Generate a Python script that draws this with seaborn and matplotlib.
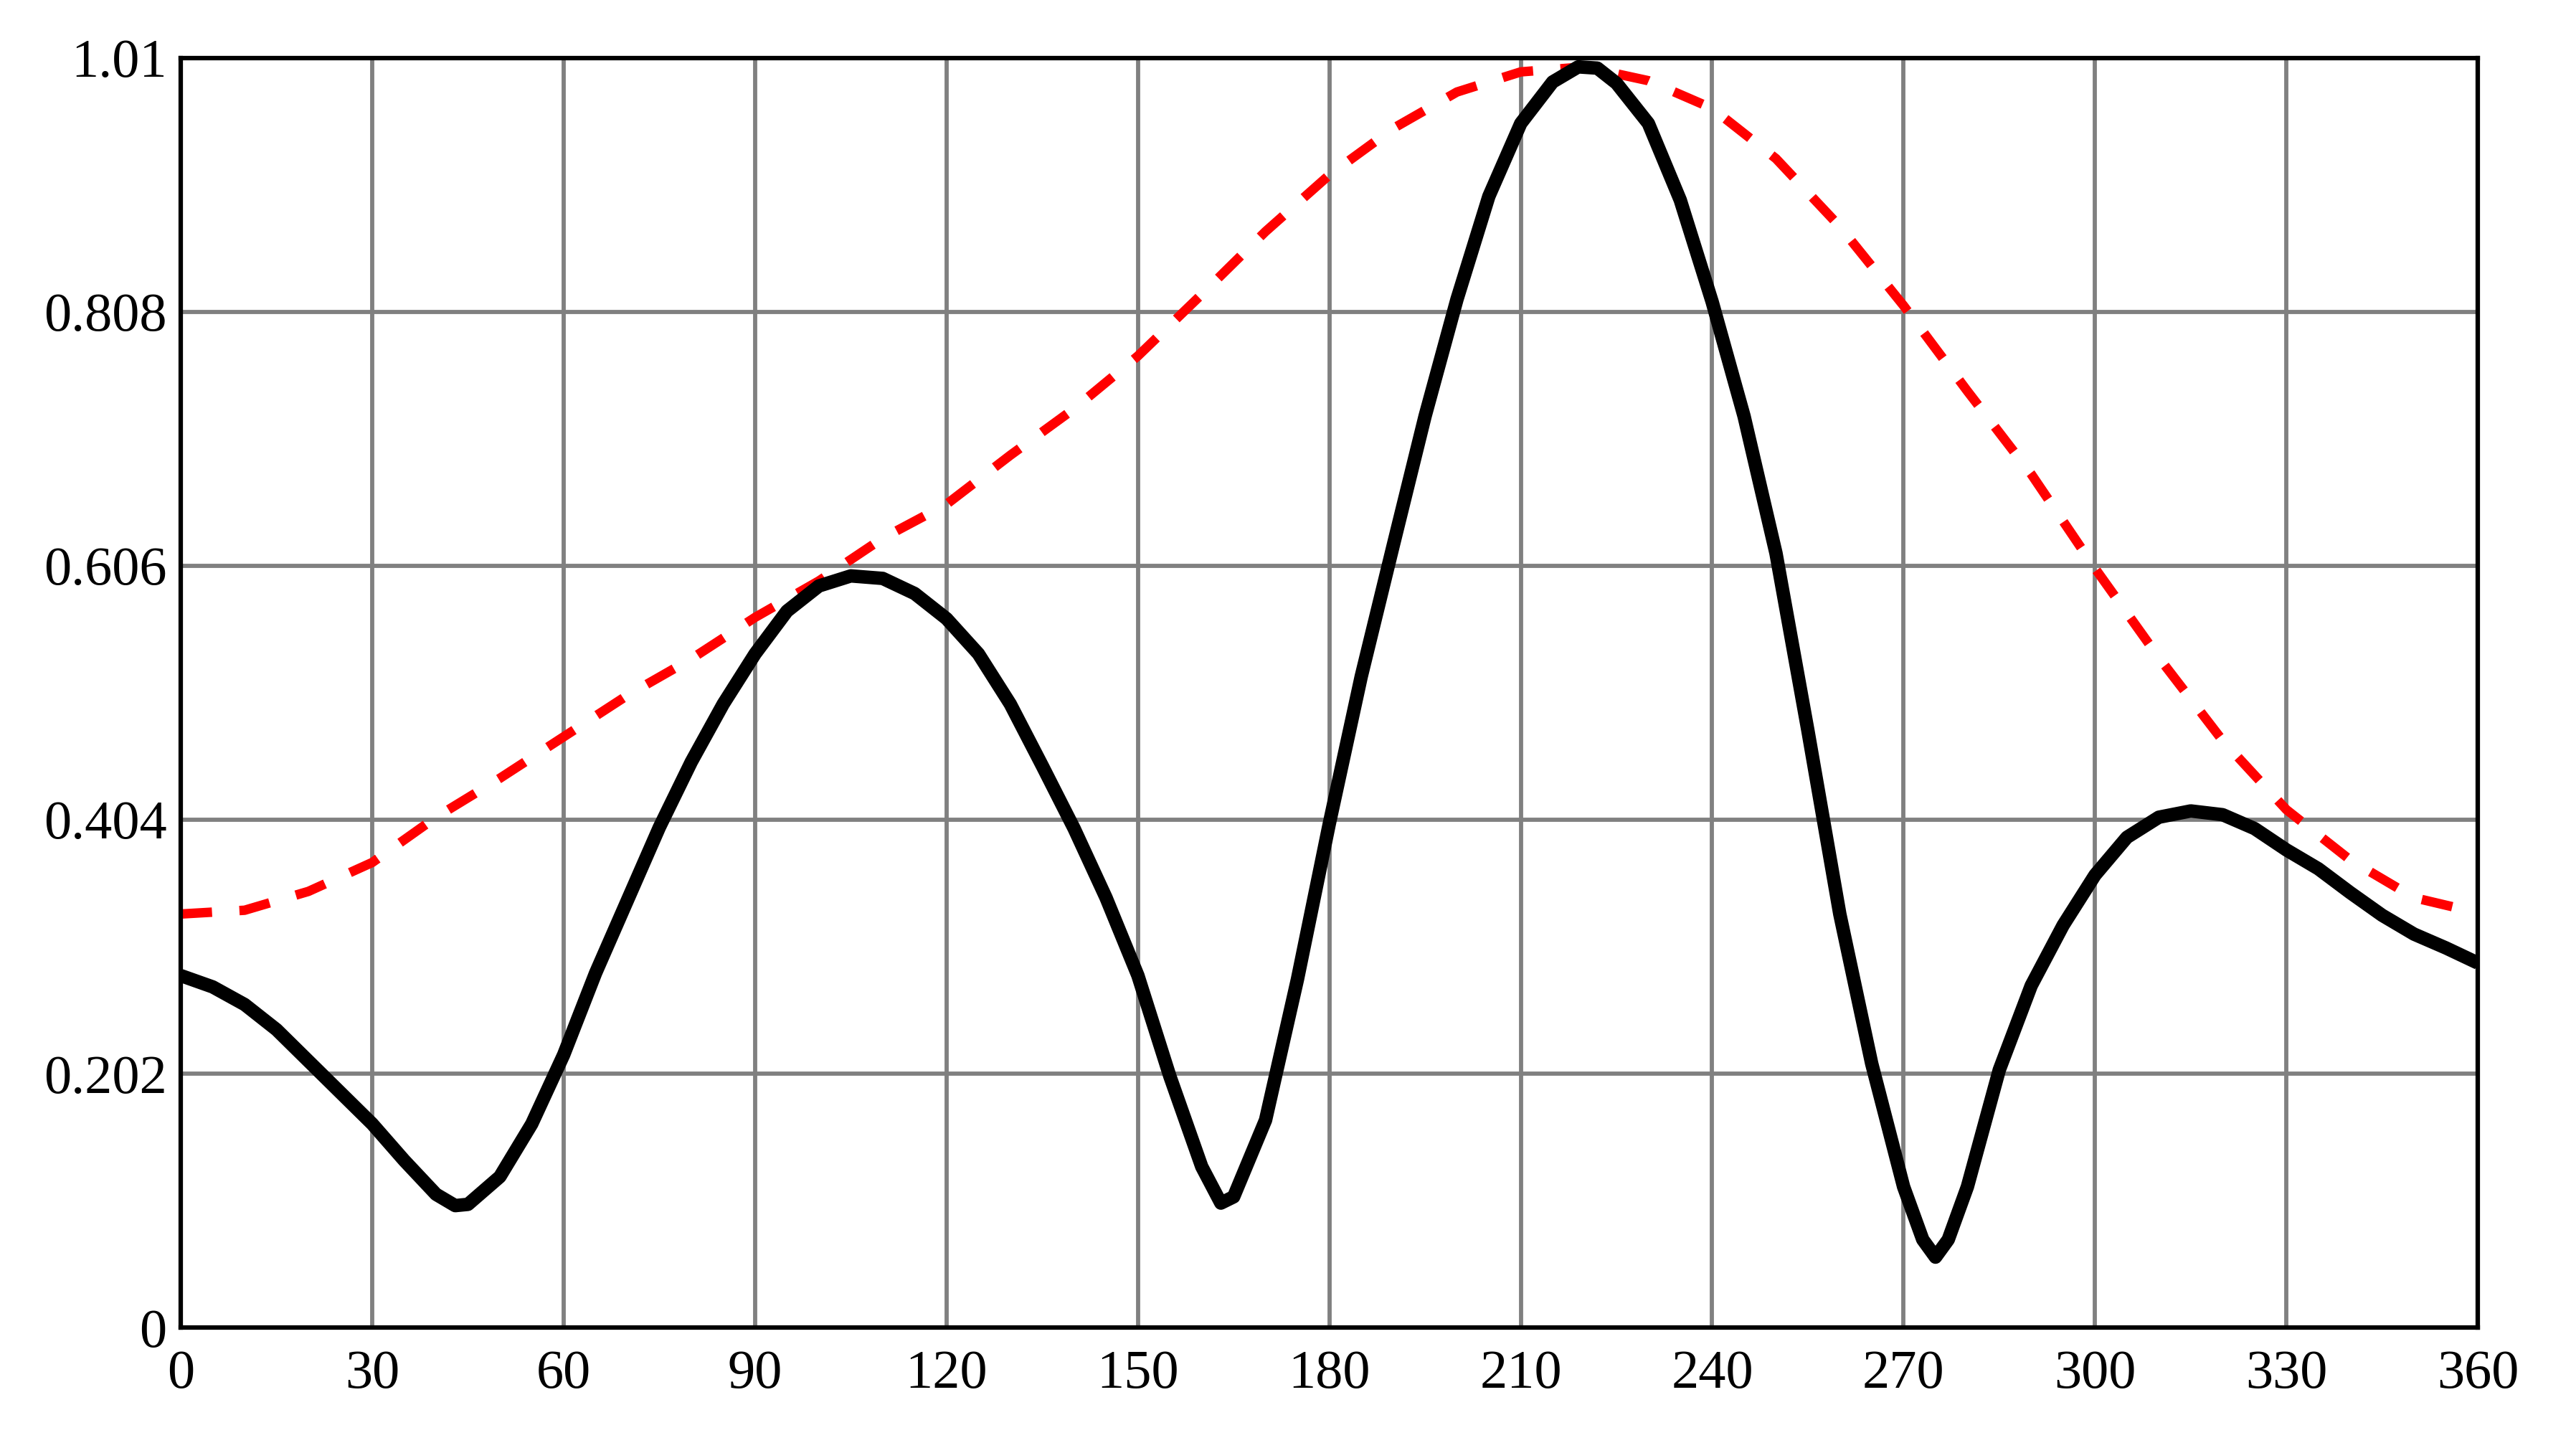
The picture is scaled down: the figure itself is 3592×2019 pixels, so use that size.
import matplotlib
matplotlib.use("Agg")
import matplotlib.pyplot as plt
import seaborn as sns
import pandas as pd

# ---- data ----
black_x = [0, 5, 10, 15, 20, 25, 30, 35, 40, 43, 45, 50, 55, 60, 65, 70, 75, 80, 85, 90,
           95, 100, 105, 110, 115, 120, 125, 130, 135, 140, 145, 150, 155, 160, 163, 165,
           170, 175, 180, 185, 190, 195, 200, 205, 210, 215, 219, 222, 225, 230, 235, 240,
           245, 250, 255, 260, 265, 270, 273, 275, 277, 280, 285, 290, 295, 300, 305, 310,
           315, 320, 325, 330, 335, 340, 345, 350, 355, 360]
black_y = [0.280, 0.271, 0.257, 0.237, 0.212, 0.187, 0.162, 0.133, 0.106, 0.097, 0.098,
           0.120, 0.162, 0.217, 0.282, 0.340, 0.398, 0.450, 0.496, 0.536, 0.570, 0.590,
           0.598, 0.596, 0.584, 0.564, 0.536, 0.496, 0.447, 0.397, 0.342, 0.280, 0.200,
           0.128, 0.099, 0.104, 0.165, 0.277, 0.401, 0.518, 0.622, 0.725, 0.818, 0.900,
           0.958, 0.991, 1.003, 1.002, 0.990, 0.958, 0.897, 0.816, 0.725, 0.616, 0.475,
           0.329, 0.210, 0.112, 0.070, 0.056, 0.070, 0.112, 0.205, 0.272, 0.320, 0.360,
           0.390, 0.406, 0.411, 0.408, 0.397, 0.380, 0.365, 0.346, 0.328, 0.313, 0.302,
           0.290]

red_x = [0, 10, 20, 30, 40, 50, 60, 70, 80, 90, 100, 110, 120, 130, 140, 150, 160, 170,
         180, 190, 200, 210, 220, 230, 240, 250, 260, 270, 280, 290, 300, 310, 320, 330,
         340, 350, 360]
red_y = [0.329, 0.332, 0.347, 0.370, 0.406, 0.437, 0.470, 0.503, 0.532, 0.565, 0.594,
         0.628, 0.655, 0.694, 0.731, 0.773, 0.822, 0.872, 0.917, 0.954, 0.983, 0.999,
         1.003, 0.992, 0.970, 0.930, 0.876, 0.813, 0.745, 0.679, 0.604, 0.533, 0.467,
         0.412, 0.372, 0.342, 0.330]

x_ticks = [0, 30, 60, 90, 120, 150, 180, 210, 240, 270, 300, 330, 360]
y_ticks = [0, 0.202, 0.404, 0.606, 0.808, 1.01]
y_tick_labels = ["0", "0.202", "0.404", "0.606", "0.808", "1.01"]

df_black = pd.DataFrame({"x": black_x, "y": black_y})
df_red = pd.DataFrame({"x": red_x, "y": red_y})

sns.set_theme(style="white")
plt.rcParams["font.family"] = ["Liberation Serif", "DejaVu Serif"]

fig = plt.figure(figsize=(35.92, 20.19), dpi=100)
ax = fig.add_axes([0.0702, 0.0832, 0.9619 - 0.0702, 0.9599 - 0.0832])

sns.lineplot(data=df_red, x="x", y="y", ax=ax, color="#ff0000", linewidth=9.5,
             linestyle=(0, (3.3, 2.9)), dash_capstyle="butt", zorder=3)
sns.lineplot(data=df_black, x="x", y="y", ax=ax, color="black", linewidth=13.5,
             solid_joinstyle="round", solid_capstyle="butt", zorder=4)

ax.set_xlim(0, 360)
ax.set_ylim(0, 1.01)
ax.set_xticks(x_ticks)
ax.set_xticklabels([str(t) for t in x_ticks])
ax.set_yticks(y_ticks)
ax.set_yticklabels(y_tick_labels)
ax.set_xlabel("")
ax.set_ylabel("")

ax.grid(True, color="#808080", linewidth=4.2)
ax.set_axisbelow(True)
for s in ax.spines.values():
    s.set_visible(True)
    s.set_color("black")
    s.set_linewidth(4.5)
    s.set_zorder(5)

ax.tick_params(axis="both", length=0, labelsize=55, colors="black")
ax.tick_params(axis="x", pad=22)
ax.tick_params(axis="y", pad=14)

fig.savefig("out.png", dpi=100, facecolor="white")
